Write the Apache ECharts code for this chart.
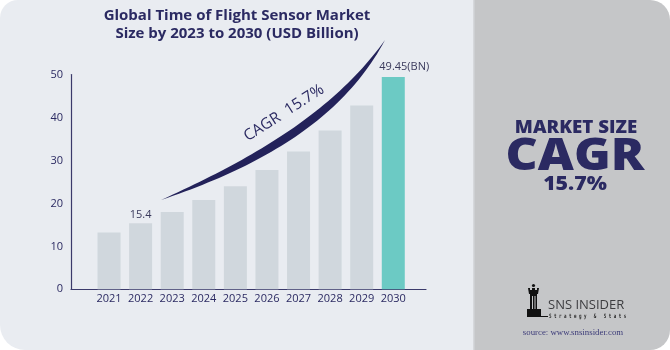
<!DOCTYPE html>
<html>
<head>
<meta charset="utf-8">
<script src="https://cdn.jsdelivr.net/npm/echarts@6/dist/echarts.min.js"></script>
<style>
  html, body { margin: 0; padding: 0; background: #ffffff; }
  #chart { width: 670px; height: 350px; }
</style>
</head>
<body>
<div id="chart"></div>
<script>
// data
const years = [2021, 2022, 2023, 2024, 2025, 2026, 2027, 2028, 2029, 2030]
const marketSize = [13.2, 15.4, 18.0, 20.8, 24.0, 27.8, 32.1, 37.0, 42.8, 49.45]
const yTicks = [0, 10, 20, 30, 40, 50]
const labelledYears = { 2022: '15.4', 2030: '49.45(BN)' }

const navy = '#2b2a62'
const chart = echarts.init(document.getElementById('chart'))

const barData = years.map((y, i) => {
  const item = { value: [y, marketSize[i]] }
  if (y === 2030) item.itemStyle = { color: '#6ccac4' }
  if (labelledYears[y]) {
    item.label = {
      show: true,
      position: 'top',
      distance: y === 2030 ? 5 : 3,
      offset: y === 2030 ? [11, 0] : [0, 0],
      formatter: labelledYears[y],
      color: '#3a3a5c',
      fontSize: 11,
      fontFamily: 'Open Sans'
    }
  }
  return item
})

// swoosh arrow over the bars (decoration): two cubic edges sampled into a polygon
const cubic = (p0, p1, p2, p3, t) => {
  const u = 1 - t
  return [
    u * u * u * p0[0] + 3 * u * u * t * p1[0] + 3 * u * t * t * p2[0] + t * t * t * p3[0],
    u * u * u * p0[1] + 3 * u * u * t * p1[1] + 3 * u * t * t * p2[1] + t * t * t * p3[1]
  ]
}
const swooshPts = []
for (let t = 0; t <= 1.0001; t += 0.02) swooshPts.push(cubic([161, 200], [256, 157], [334, 111], [385, 40], t))
for (let t = 1; t >= -0.0001; t -= 0.02) swooshPts.push(cubic([161, 200], [262, 166], [343, 119], [385, 40], t))

const option = {
  backgroundColor: '#ffffff',
  animation: false,
  grid: { left: 71, right: 244, top: 74.6, bottom: 60.7 },
  xAxis: {
    type: 'value',
    min: 2019.796,
    max: 2031.036,
    axisLine: { show: true, lineStyle: { color: '#3b3a6b', width: 1.2 } },
    axisTick: { show: false },
    splitLine: { show: false },
    axisLabel: {
      customValues: years,
      formatter: v => String(v),
      color: navy,
      fontSize: 11,
      fontFamily: 'Open Sans',
      margin: 4
    }
  },
  yAxis: {
    type: 'value',
    min: 0,
    max: 50,
    axisLine: { show: true, lineStyle: { color: '#3b3a6b', width: 1.2 } },
    axisTick: { show: false },
    splitLine: { show: false },
    axisLabel: {
      customValues: yTicks,
      color: navy,
      fontSize: 11,
      fontFamily: 'Open Sans',
      margin: 8
    }
  },
  series: [{
    type: 'bar',
    barWidth: 23,
    data: barData,
    itemStyle: { color: '#d0d7dd' },
    z: 3
  }],
  graphic: [
    // panels
    { type: 'rect', z: -10, shape: { x: 0, y: 0, width: 500, height: 350, r: [18, 0, 0, 25] }, style: { fill: '#e9ecf1' } },
    { type: 'rect', z: -9, shape: { x: 474, y: 0, width: 196, height: 350, r: [0, 20, 20, 0] }, style: { fill: '#c5c6c8' } },
    { type: 'rect', z: -8, shape: { x: 473, y: 0, width: 1.5, height: 350 }, style: { fill: '#d6d8dc' } },
    // title
    {
      type: 'text', x: 237, y: 7, z: 10,
      style: {
        text: 'Global Time of Flight Sensor Market\nSize by 2023 to 2030 (USD Billion)',
        align: 'center', verticalAlign: 'top',
        font: '700 15px "Open Sans"', lineHeight: 18, fill: navy
      }
    },
    // swoosh + label
    { type: 'polygon', z: 10, shape: { points: swooshPts }, style: { fill: '#23225a' } },
    {
      type: 'text', x: 284, y: 113, rotation: 0.571, z: 10,
      style: {
        text: 'CAGR  15.7%', align: 'center', verticalAlign: 'middle',
        font: '500 15.5px "Open Sans"', fill: navy
      }
    },
    // right panel
    {
      type: 'text', x: 576, y: 128, z: 10, scaleX: 1.1,
      style: { text: 'MARKET SIZE', align: 'center', verticalAlign: 'middle', font: '800 17px "Open Sans"', fill: navy }
    },
    {
      type: 'text', x: 575, y: 157, z: 10, scaleX: 1.13,
      style: { text: 'CAGR', align: 'center', verticalAlign: 'middle', font: '800 44px "Open Sans"', fill: navy }
    },
    {
      type: 'text', x: 575, y: 185, z: 10, scaleX: 1.12,
      style: { text: '15.7%', align: 'center', verticalAlign: 'middle', font: '800 19px "Open Sans"', fill: navy }
    },
    // logo: rook
    { type: 'circle', z: 10, shape: { cx: 533.5, cy: 285.5, r: 1.6 }, style: { fill: '#111' } },
    { type: 'polygon', z: 10, shape: { points: [[528, 288], [530, 288], [530, 290], [532, 290], [532, 288], [535, 288], [535, 290], [537, 290], [537, 288], [539, 288], [538, 294], [529, 294]] }, style: { fill: '#111' } },
    { type: 'rect', z: 10, shape: { x: 530, y: 294, width: 7, height: 15 }, style: { fill: '#111' } },
    { type: 'rect', z: 10, shape: { x: 532, y: 296, width: 1, height: 13 }, style: { fill: '#c5c6c8' } },
    { type: 'rect', z: 10, shape: { x: 534.5, y: 296, width: 1, height: 13 }, style: { fill: '#c5c6c8' } },
    { type: 'rect', z: 10, shape: { x: 527, y: 309, width: 14, height: 8 }, style: { fill: '#111' } },
    { type: 'rect', z: 10, shape: { x: 541, y: 316, width: 7, height: 1 }, style: { fill: '#111' } },
    {
      type: 'text', x: 548, y: 305, z: 10,
      style: { text: 'SNS INSIDER', align: 'left', verticalAlign: 'middle', font: '500 13px "Open Sans"', fill: '#3d3d40' }
    },
    {
      type: 'text', x: 549, y: 316.5, z: 10, scaleX: 0.69,
      style: { text: 'S t r a t e g y   &   S t a t s', align: 'left', verticalAlign: 'middle', font: '700 6px "DejaVu Sans Mono"', fill: '#2a2a2a' }
    },
    {
      type: 'text', x: 573, y: 332.5, z: 10,
      style: { text: 'source: www.snsinsider.com', align: 'center', verticalAlign: 'middle', font: '8.8px "Liberation Serif"', fill: '#3b3a78' }
    }
  ]
}

chart.setOption(option)
window.addEventListener('resize', () => chart.resize())
</script>
</body>
</html>
